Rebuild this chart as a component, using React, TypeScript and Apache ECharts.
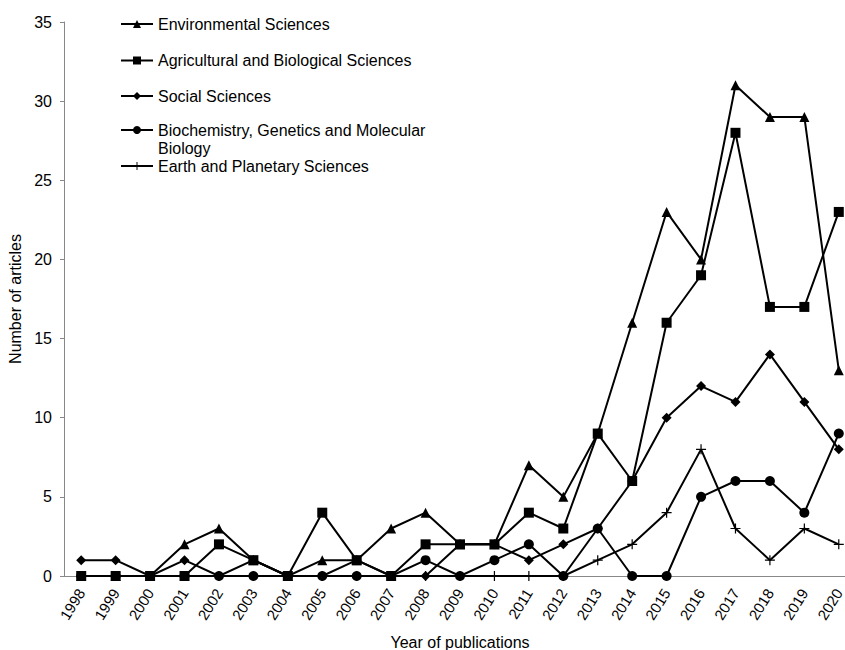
import React, { useEffect, useRef } from "react";
import * as echarts from "echarts";

const years = ["1998", "1999", "2000", "2001", "2002", "2003", "2004", "2005", "2006", "2007", "2008", "2009", "2010", "2011", "2012", "2013", "2014", "2015", "2016", "2017", "2018", "2019", "2020"];
const environmental = [0, 0, 0, 2, 3, 1, 0, 1, 1, 3, 4, 2, 2, 7, 5, 9, 16, 23, 20, 31, 29, 29, 13];
const agricultural = [0, 0, 0, 0, 2, 1, 0, 4, 1, 0, 2, 2, 2, 4, 3, 9, 6, 16, 19, 28, 17, 17, 23];
const social = [1, 1, 0, 1, 0, 1, 0, 0, 1, 0, 0, 2, 2, 1, 2, 3, 6, 10, 12, 11, 14, 11, 8];
const biochemistry = [0, 0, 0, 0, 0, 0, 0, 0, 0, 0, 1, 0, 1, 2, 0, 3, 0, 0, 5, 6, 6, 4, 9];
const earth = [0, 0, 0, 0, 0, 0, 0, 0, 0, 0, 0, 0, 0, 0, 0, 1, 2, 4, 8, 3, 1, 3, 2];

const seriesNames = [
  "Environmental Sciences",
  "Agricultural and Biological Sciences",
  "Social Sciences",
  "Biochemistry, Genetics and Molecular",
  "Earth and Planetary Sciences",
];

const PLUS = "path://M4.4,0 H5.6 V4.4 H10 V5.6 H5.6 V10 H4.4 V5.6 H0 V4.4 H4.4 Z";

export default function App() {
  const ref = useRef<HTMLDivElement>(null);
  useEffect(() => {
    if (!ref.current) return;
    const chart = echarts.init(ref.current, undefined, { renderer: "svg" });
    const font = "'Liberation Sans', Arial, sans-serif";
    const mk = (name: string, vals: number[], symbol: string, size: number) => ({
      name,
      type: "line",
      data: vals,
      symbol,
      symbolSize: size,
      showSymbol: true,
      lineStyle: { color: "#000", width: 2 },
      itemStyle: { color: "#000" },
      emphasis: { disabled: true },
    });
    const legendCenters = [23, 59.5, 95, 129, 165];
    chart.setOption({
      animation: false,
      textStyle: { fontFamily: font },
      grid: { left: 64, right: -11, top: 22, bottom: 74, outerBoundsMode: "none", containLabel: false },
      legend: seriesNames.map((n, i) => ({
        data: [n],
        left: 120,
        top: legendCenters[i] - 7,
        padding: 0,
        itemWidth: 32,
        itemHeight: 10,
        textStyle: { fontSize: 16, lineHeight: 14, color: "#000", fontFamily: font },
        selectedMode: false,
      })),
      xAxis: {
        type: "category",
        data: years,
        boundaryGap: true,
        name: "Year of publications",
        nameLocation: "middle",
        nameGap: 58,
        nameTextStyle: { fontSize: 16, color: "#000", fontFamily: font },
        axisLine: { lineStyle: { color: "#888", width: 1 } },
        axisTick: { show: false },
        splitLine: { show: false },
        axisLabel: {
          interval: 0,
          rotate: 58,
          fontSize: 15,
          color: "#000",
          margin: 14,
        },
      },
      yAxis: {
        type: "value",
        min: 0,
        max: 35,
        interval: 5,
        name: "Number of articles",
        nameLocation: "middle",
        nameGap: 37,
        nameTextStyle: { fontSize: 16, color: "#000", fontFamily: font },
        axisLine: { show: true, lineStyle: { color: "#888", width: 1 } },
        axisTick: { show: true, length: 4, lineStyle: { color: "#888" } },
        splitLine: { show: false },
        axisLabel: {
          fontSize: 16,
          color: "#000",
          margin: 12,
        },
      },
      graphic: [
        {
          type: "text",
          left: 158,
          top: 140,
          style: { text: "Biology", fontSize: 16, lineHeight: 14, fill: "#000", fontFamily: font },
        },
      ],
      series: [
        mk(seriesNames[0], environmental, "triangle", 10),
        mk(seriesNames[1], agricultural, "rect", 10),
        mk(seriesNames[2], social, "diamond", 10),
        mk(seriesNames[3], biochemistry, "circle", 10),
        mk(seriesNames[4], earth, PLUS, 10),
      ],
    });
    return () => chart.dispose();
  }, []);
  return <div ref={ref} style={{ width: 845, height: 650, position: "absolute", left: 0, top: 0 }} />;
}
